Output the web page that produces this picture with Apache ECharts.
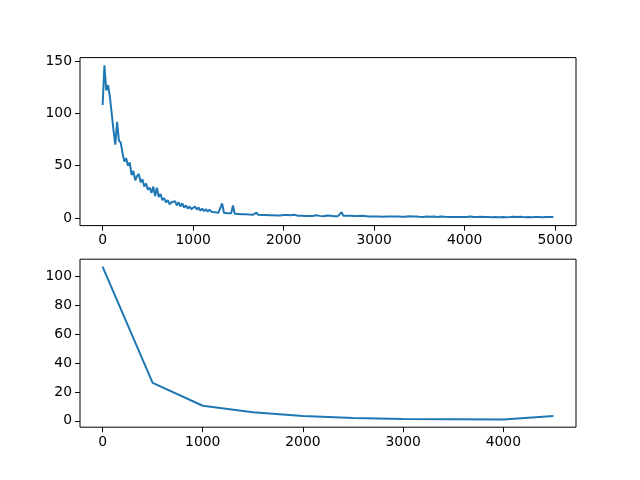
<!DOCTYPE html>
<html>
<head>
<meta charset="utf-8">
<script src="https://cdn.jsdelivr.net/npm/echarts@6/dist/echarts.min.js"></script>
<style>
  html, body { margin: 0; padding: 0; background: #fff; }
  #chart { width: 640px; height: 480px; }
</style>
</head>
<body>
<div id="chart"></div>
<script>
// training loss, logged every STEP iterations
const STEP = 20
const trainLoss = [
  108, 146, 122, 127, 116, 100, 84, 70, 92, 74,
  72, 62, 54, 57, 50, 53, 41, 45, 36, 40,
  42, 34, 37, 30, 33, 27, 29, 24, 30, 21,
  29, 20, 23, 17, 19, 15, 17, 13, 15, 14,
  16, 12, 15, 11, 14, 10, 12, 9, 11, 8.5,
  10, 11, 8, 10, 7, 9, 6.5, 8.5, 6, 8,
  6, 7.5, 5.5, 7, 5, 6.5, 14, 5, 6.5, 4.5,
  6, 4.5, 12, 4, 5.5, 3.8, 5, 3.5, 4.8, 3.5,
  4.5, 3.2, 4.2, 3, 4, 5, 3, 4, 2.8, 3.8,
  2.8, 3.6, 2.6, 3.4, 2.5, 3.3, 2.4, 3.2, 2.4, 3.0,
  2.8,
  2.2, 2.9, 2.0, 2.7, 2.3, 3.0, 2.1, 2.0, 2.7, 2.0,
  2.5, 1.8, 2.6, 1.9, 2.4, 1.9, 1.7, 2.5, 1.8, 2.0,
  2.3, 1.7, 2.2, 2.4, 1.8, 2.1, 2.5, 1.6, 2.1, 1.7,
  2.1, 5.5, 2.2, 1.7, 2.0, 1.5, 2.1, 1.6, 1.9, 1.4,
  1.9, 1.5, 2.0, 1.4, 1.8, 1.5, 1.3, 1.8, 1.4, 1.7,
  1.4, 1.7, 1.3, 1.5, 1.2, 1.6, 1.4, 1.3, 1.5, 1.2,
  1.4, 1.1, 1.5, 1.3, 1.2, 1.4, 1.1, 1.3, 1.6, 1.2,
  1.3, 1.0, 1.4, 1.2, 1.1, 1.3, 1.0, 1.2, 1.4, 1.1,
  1.2, 1.0, 1.3, 1.1, 0.9, 1.2, 1.5, 1.0, 1.1, 1.3,
  1.0, 1.2, 0.9, 1.1, 1.0, 1.3, 0.9, 1.1, 1.0, 1.2,
  0.9, 1.1, 1.4, 0.9, 1.0, 1.2, 0.9, 1.0, 1.1, 0.8,
  1.0, 1.2, 0.9, 1.0, 0.8, 1.1, 0.9, 1.3, 0.8, 1.0,
  0.9, 1.1, 0.8, 1.0, 0.9, 0.8, 1.1, 0.9, 1.0, 0.8,
  1.2, 0.9, 0.8, 1.0, 0.9, 1.1, 0.8, 0.9, 1.0, 0.8,
  0.9, 1.0, 0.8, 0.9, 1.0, 0.8, 0.9, 0.8, 0.9
]

// evaluation loss
const evalSteps = [0, 500, 1000, 1500, 2000, 2500, 3000, 3500, 4000, 4500]
const evalLoss = [106.5, 26.2, 10.4, 6.0, 3.3, 2.0, 1.3, 1.1, 0.9, 3.4]

const topXTicks = [0, 1000, 2000, 3000, 4000, 5000]
const topYTicks = [0, 50, 100, 150]
const bottomXTicks = [0, 1000, 2000, 3000, 4000]
const bottomYTicks = [0, 20, 40, 60, 80, 100]

const font = 'DejaVu Sans'
const lineColor = '#1f77b4'

function axis(gridIndex, min, max, ticks) {
  return {
    type: 'value',
    gridIndex,
    min,
    max,
    axisLine: { show: false, onZero: false },
    splitLine: { show: false },
    axisTick: {
      show: true,
      inside: false,
      length: 5,
      customValues: ticks,
      lineStyle: { color: '#000', width: 1 },
    },
    axisLabel: {
      customValues: ticks,
      formatter: (v) => String(v),
      margin: 8,
      color: '#000',
      fontFamily: font,
      fontSize: 13.9,
    },
  }
}

const chart = echarts.init(document.getElementById('chart'), null, { renderer: 'canvas' })

chart.setOption({
  animation: false,
  backgroundColor: '#fff',
  grid: [
    { left: 80, right: 64, top: 57.6, height: 168, show: true, borderColor: '#000', borderWidth: 1, backgroundColor: 'transparent' },
    { left: 80, right: 64, top: 259.2, height: 168, show: true, borderColor: '#000', borderWidth: 1, backgroundColor: 'transparent' },
  ],
  xAxis: [
    axis(0, -250, 5230, topXTicks),
    axis(1, -225, 4725, bottomXTicks),
  ],
  yAxis: [
    axis(0, -7.3, 153.3, topYTicks),
    axis(1, -4.4, 111.7, bottomYTicks),
  ],
  series: [
    {
      type: 'line',
      xAxisIndex: 0,
      yAxisIndex: 0,
      data: trainLoss.map((v, i) => [i * STEP, v]),
      showSymbol: false,
      lineStyle: { color: lineColor, width: 2 },
    },
    {
      type: 'line',
      xAxisIndex: 1,
      yAxisIndex: 1,
      data: evalSteps.map((s, i) => [s, evalLoss[i]]),
      showSymbol: false,
      lineStyle: { color: lineColor, width: 2 },
    },
  ],
})
</script>
</body>
</html>
